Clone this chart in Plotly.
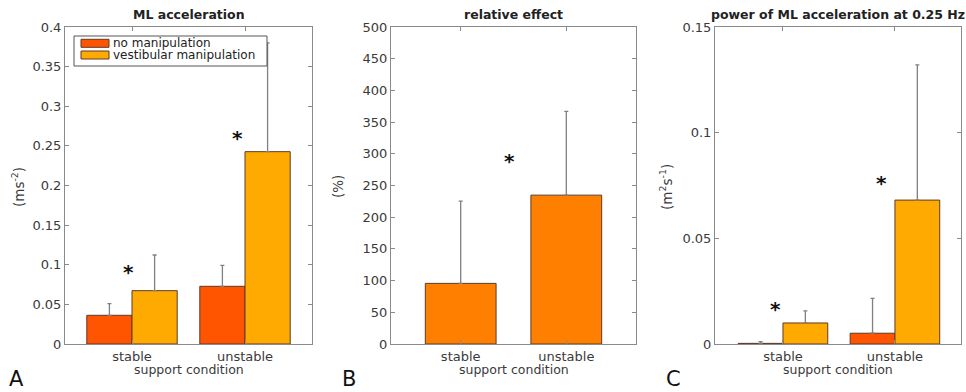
import plotly.graph_objects as go

# ---- data ----
conditions = ["stable", "unstable"]

# panel A: ML acceleration (ms^-2), mean and SD
accel_none = [0.0362, 0.0728]
accel_none_sd = [0.0147, 0.0265]
accel_vest = [0.0673, 0.2427]
accel_vest_sd = [0.0450, 0.1373]
accel_star_x = [-0.035, 0.938]
accel_star_y = [0.0975, 0.266]
accel_ticks = [0, 0.05, 0.1, 0.15, 0.2, 0.25, 0.3, 0.35, 0.4]
accel_ticklabels = ["0", "0.05", "0.1", "0.15", "0.2", "0.25", "0.3", "0.35", "0.4"]

# panel B: relative effect (%)
rel_effect = [95.6, 234.8]
rel_effect_sd = [129.7, 132.2]
rel_star_x = [0.46]
rel_star_y = [296.7]
rel_ticks = [0, 50, 100, 150, 200, 250, 300, 350, 400, 450, 500]
rel_ticklabels = [str(v) for v in rel_ticks]

# panel C: power of ML acceleration at 0.25 Hz (m^2 s^-1)
power_none = [0.0003, 0.0051]
power_none_sd = [0.0008, 0.0165]
power_vest = [0.00995, 0.0681]
power_vest_sd = [0.0057, 0.0640]
power_star_x = [-0.07, 0.884]
power_star_y = [0.0188, 0.0785]
power_ticks = [0, 0.05, 0.1, 0.15]
power_ticklabels = ["0", "0.05", "0.1", "0.15"]

series_names = ["no manipulation", "vestibular manipulation"]

# ---- style ----
W, H = 966, 392
C_NONE = "#FF5500"
C_VEST = "#FFAA00"
C_REL = "#FF8000"
EDGE = "#5e3a28"
AXC = "#8a8a8a"
TXT = "#3a3a3a"
FONT = "DejaVu Sans"


def px_x(p):
    return p / W


def px_y(p):
    return 1 - p / H


def err(sd):
    return dict(type="data", array=sd, arrayminus=[0] * len(sd), symmetric=False,
                color="#808080", thickness=1.3, width=2)


fig = go.Figure()

fig.add_trace(go.Bar(x=conditions, y=accel_none, error_y=err(accel_none_sd), name=series_names[0],
                     marker=dict(color=C_NONE, line=dict(color=EDGE, width=1)),
                     xaxis="x", yaxis="y", showlegend=False))
fig.add_trace(go.Bar(x=conditions, y=accel_vest, error_y=err(accel_vest_sd), name=series_names[1],
                     marker=dict(color=C_VEST, line=dict(color=EDGE, width=1)),
                     xaxis="x", yaxis="y", showlegend=False))
fig.add_trace(go.Bar(x=conditions, y=rel_effect, error_y=err(rel_effect_sd), width=[0.67, 0.67],
                     marker=dict(color=C_REL, line=dict(color=EDGE, width=1)),
                     xaxis="x2", yaxis="y2", showlegend=False))
fig.add_trace(go.Bar(x=conditions, y=power_none, error_y=err(power_none_sd), name=series_names[0],
                     marker=dict(color=C_NONE, line=dict(color=EDGE, width=1)),
                     xaxis="x3", yaxis="y3", showlegend=False))
fig.add_trace(go.Bar(x=conditions, y=power_vest, error_y=err(power_vest_sd), name=series_names[1],
                     marker=dict(color=C_VEST, line=dict(color=EDGE, width=1)),
                     xaxis="x3", yaxis="y3", showlegend=False))

# panel geometry in pixels: (left, right)
panels = [(65, 312), (391, 636), (715, 961)]
top_px, bot_px = 27, 344
ydom = [px_y(bot_px), px_y(top_px)]
xranges = [[-0.593, 1.593], [-0.66, 1.66], [-0.607, 1.59]]
yranges = [[0, 0.4], [0, 500], [0, 0.15]]
yticks = [(accel_ticks, accel_ticklabels), (rel_ticks, rel_ticklabels), (power_ticks, power_ticklabels)]

axis_common = dict(showline=True, linecolor=AXC, linewidth=1, mirror="ticks", ticks="inside",
                   ticklen=4, tickcolor=AXC, showgrid=False, zeroline=False, automargin=False,
                   tickfont=dict(family=FONT, size=13, color=TXT))

layout = dict(width=W, height=H, margin=dict(l=0, r=0, t=0, b=0, autoexpand=False),
              paper_bgcolor="white", plot_bgcolor="white",
              barmode="group", bargap=0.2, bargroupgap=0, showlegend=False)

for i, ((l, r), xr, yr, (tv, tt)) in enumerate(zip(panels, xranges, yranges, yticks)):
    sfx = "" if i == 0 else str(i + 1)
    layout["xaxis" + sfx] = dict(domain=[px_x(l), px_x(r)], anchor="y" + sfx, type="category",
                                 range=xr, **axis_common)
    layout["yaxis" + sfx] = dict(domain=ydom, anchor="x" + sfx, range=yr,
                                 tickvals=tv, ticktext=tt, **axis_common)

fig.update_layout(**layout)

ann = []
titles = ["ML acceleration", "relative effect", "power of ML acceleration at 0.25 Hz"]
ylabels = ["(ms<sup>-2</sup>)", "(%)", "(m<sup>2</sup>s<sup>-1</sup>)"]
ylabel_x = [18, 338, 666]
letters = ["A", "B", "C"]
letter_x = [7, 340, 664]
for i, (l, r) in enumerate(panels):
    cx = (l + r) / 2
    ann.append(dict(text="<b>" + titles[i] + "</b>", x=px_x(cx), y=px_y(top_px - 3),
                    xref="paper", yref="paper", xanchor="center", yanchor="bottom",
                    showarrow=False, font=dict(family=FONT, size=12.5, color="#222")))
    ann.append(dict(text=ylabels[i], x=px_x(ylabel_x[i]), y=px_y(187), textangle=-90,
                    xref="paper", yref="paper", xanchor="center", yanchor="middle",
                    showarrow=False, font=dict(family=FONT, size=13.5, color=TXT)))
    ann.append(dict(text="support condition", x=px_x(cx), y=px_y(369),
                    xref="paper", yref="paper", xanchor="center", yanchor="middle",
                    showarrow=False, font=dict(family=FONT, size=12.5, color=TXT)))
    ann.append(dict(text=letters[i], x=px_x(letter_x[i]), y=px_y(379),
                    xref="paper", yref="paper", xanchor="left", yanchor="middle",
                    showarrow=False, font=dict(family=FONT, size=21, color="#111")))

# significance stars
for sx, sy, xa, ya in [(accel_star_x, accel_star_y, "x", "y"),
                       (rel_star_x, rel_star_y, "x2", "y2"),
                       (power_star_x, power_star_y, "x3", "y3")]:
    for xv, yv in zip(sx, sy):
        ann.append(dict(text="<b>*</b>", x=xv, y=yv, xref=xa, yref=ya, xanchor="center",
                        yanchor="middle", yshift=-5, showarrow=False,
                        font=dict(family=FONT, size=20, color="#111")))

# legend box for panel A
shapes = [dict(type="rect", xref="paper", yref="paper", x0=px_x(74), x1=px_x(267),
               y0=px_y(66), y1=px_y(36), line=dict(color="#555", width=1), fillcolor="white",
               layer="above")]
for k, (col, name) in enumerate(zip([C_NONE, C_VEST], series_names)):
    y0p = 39.3 + k * 11.7
    shapes.append(dict(type="rect", xref="paper", yref="paper", x0=px_x(81), x1=px_x(109),
                       y0=px_y(y0p + 8), y1=px_y(y0p), line=dict(color=EDGE, width=1),
                       fillcolor=col, layer="above"))
    ann.append(dict(text=name, x=px_x(111), y=px_y(y0p + 4), xref="paper", yref="paper",
                    xanchor="left", yanchor="middle", showarrow=False,
                    font=dict(family=FONT, size=12, color="#222")))

fig.update_layout(annotations=ann, shapes=shapes)
fig.write_html("out.html")
